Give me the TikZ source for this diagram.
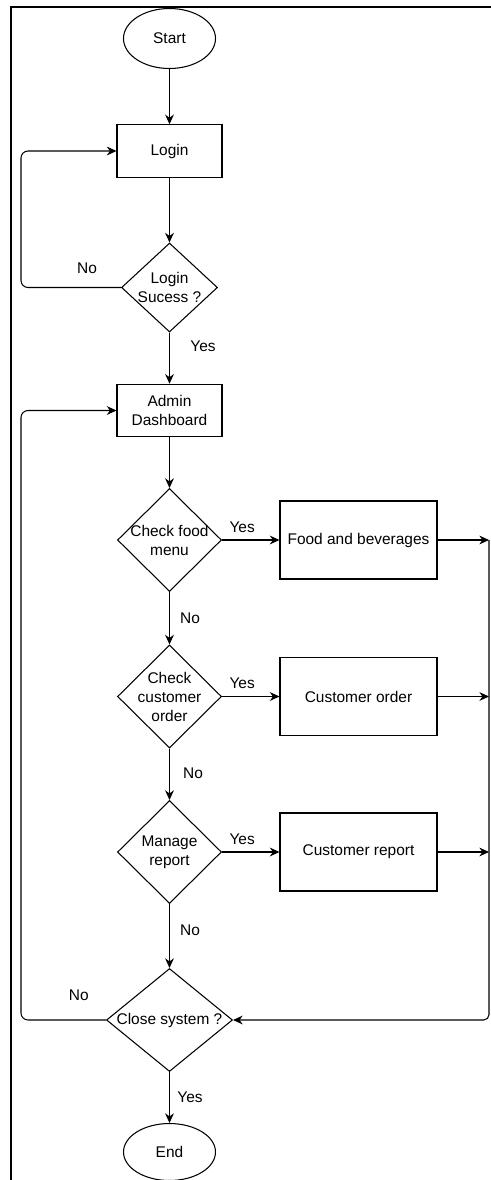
\documentclass[tikz,border=0pt]{standalone}
\usepackage{fontspec}
\setmainfont{Liberation Sans}
\usepackage{tikz}
\usetikzlibrary{shapes.geometric, arrows.meta}
\tikzstyle{startstop} = [ellipse, draw=black, minimum width=1.84cm, minimum height=1.2cm, text centered]
\tikzstyle{process} = [rectangle, draw=black, minimum width=2.1cm, minimum height=1.05cm, text centered, align=center]
\tikzstyle{result} = [rectangle, draw=black, minimum width=3.14cm, minimum height=1.56cm, text centered]
\tikzstyle{decision} = [diamond, draw=black, aspect=1, inner sep=-0.1cm, minimum width=2.08cm, minimum height=2.06cm, text centered, align=center]
\tikzstyle{arrow} = [->, >={Stealth[length=5.5pt, width=5pt]}]
\tikzstyle{lbl} = [inner sep=1pt]

\begin{document}
\begin{tikzpicture}[node distance=2cm, line width=0.6pt, font=\fontsize{8.8}{10.8}\selectfont]

% Page frame
\useasboundingbox (0,0) rectangle (9.82,-23.6);
\draw [line width=1.1pt] (0.22,-23.8) -- (0.22,-0.14) -- (10,-0.14);

% Main column
\node (start) [startstop] at (3.39,-0.77) {Start};
\node (login) [process, below of=start, yshift=-0.25cm] {Login};
\node (loginok) [decision, below of=login, yshift=-0.73cm, minimum width=1.92cm, minimum height=1.78cm] {Login\\Sucess ?};
\node (admin) [process, below of=loginok, yshift=-0.46cm] {Admin\\Dashboard};
\node (checkfood) [decision, below of=admin, yshift=-0.59cm] {Check food\\menu};
\node (checkorder) [decision, below of=checkfood, yshift=-1.13cm] {Check\\customer\\order};
\node (managereport) [decision, below of=checkorder, yshift=-1.11cm] {Manage\\report};
\node (closesys) [decision, below of=managereport, yshift=-1.36cm, minimum width=2.52cm] {Close system ?};
\node (end) [startstop, below of=closesys, yshift=-0.64cm, minimum height=1.14cm] {End};

% Side boxes
\node (food) [result, right of=checkfood, xshift=1.78cm] {Food and beverages};
\node (order) [result, right of=checkorder, xshift=1.78cm] {Customer order};
\node (report) [result, right of=managereport, xshift=1.78cm] {Customer report};

% Rails
\coordinate (rail) at (9.78,-10.8);
\coordinate (leftrail) at (0.42,-5.75);

% Arrows
\draw [arrow] (start) -- (login);
\draw [arrow] (login) -- (loginok);
\draw [arrow] (loginok) -- node[lbl, pos=0.27, xshift=0.67cm] (yeslogin) {Yes} (admin);
\draw [arrow] (admin) -- (checkfood);
\draw [arrow] (checkfood) -- node[lbl, pos=0.35, yshift=0.25cm] (yesfood) {Yes} (food);
\draw [arrow] (checkfood) -- node[lbl, pos=0.5, xshift=0.41cm] (nofood) {No} (checkorder);
\draw [arrow] (checkorder) -- node[lbl, pos=0.35, yshift=0.27cm] (yesorder) {Yes} (order);
\draw [arrow] (checkorder) -- node[lbl, pos=0.49, xshift=0.47cm] (noorder) {No} (managereport);
\draw [arrow] (managereport) -- node[lbl, pos=0.35, yshift=0.26cm] (yesreport) {Yes} (report);
\draw [arrow] (managereport) -- node[lbl, pos=0.41, xshift=0.41cm] (noreport) {No} (closesys);
\draw [arrow] (closesys) -- node[lbl, pos=0.5, xshift=0.41cm] (yesclose) {Yes} (end);

\draw [arrow] (food) -- (food -| rail);
\draw [arrow] (order) -- (order -| rail);
\draw [arrow] (report) -- (report -| rail);
\draw [arrow, rounded corners=3pt] (rail) |- (closesys.east);

\draw [arrow, rounded corners=4pt] (loginok.west) -- node[lbl, pos=0.34, yshift=0.39cm] (nologin) {No} (loginok.west -| leftrail) |- (login.west);
\draw [arrow, rounded corners=4pt] (closesys.west) -- node[lbl, pos=0.32, yshift=0.5cm] (noclose) {No} (closesys.west -| leftrail) |- (admin.west);

\end{tikzpicture}
\end{document}
